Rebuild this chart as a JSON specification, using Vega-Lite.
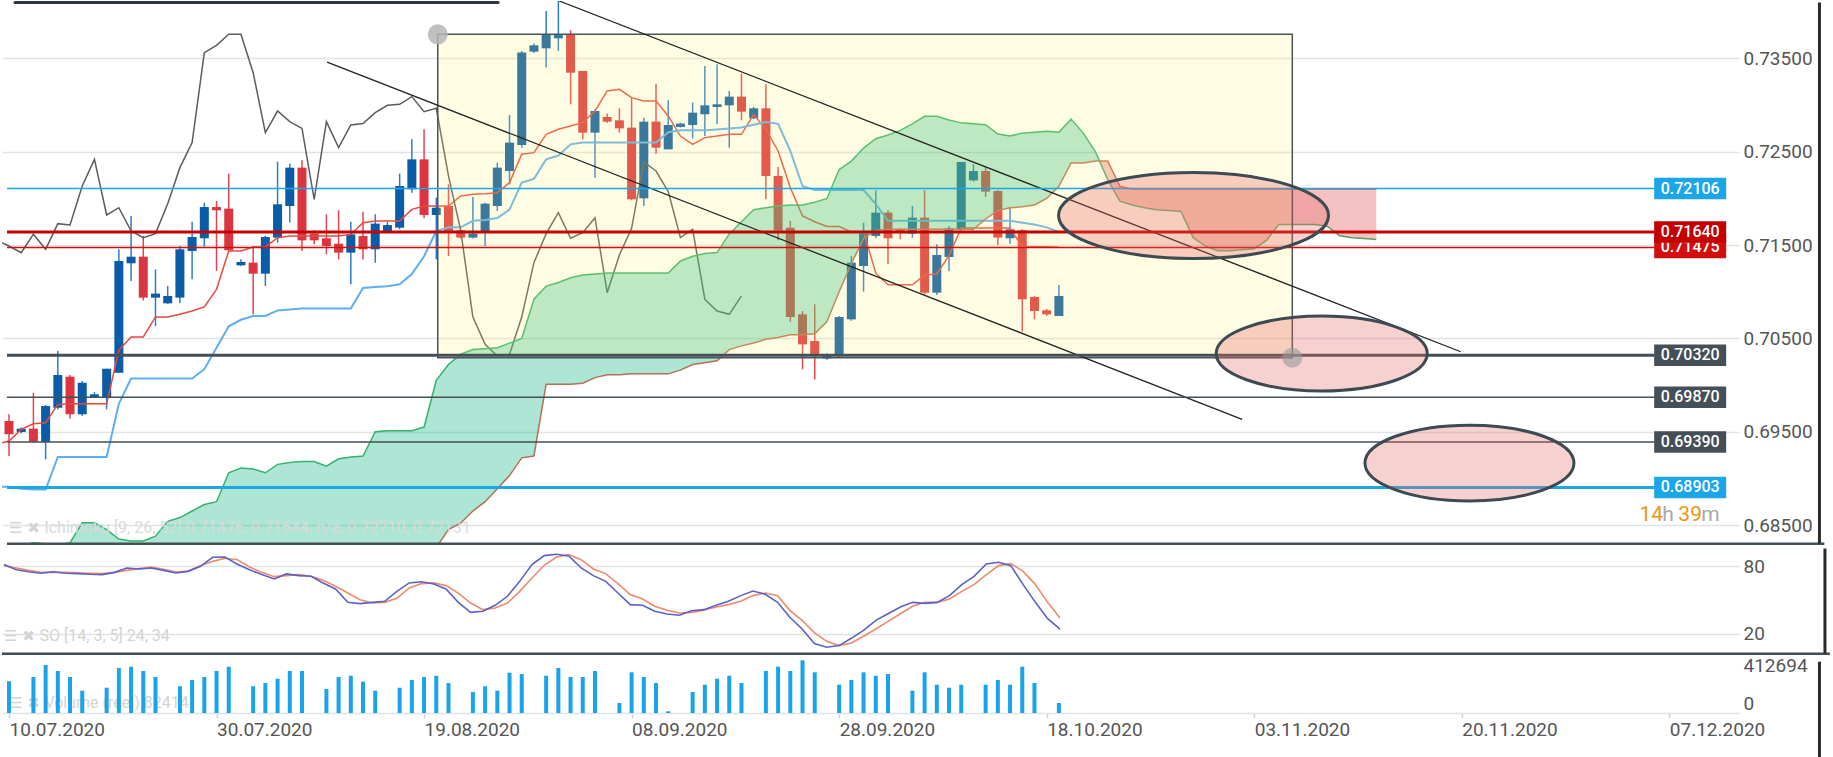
{
  "$schema": "https://vega.github.io/schema/vega-lite/v6.json",
  "description": "AUD/USD style daily chart with Ichimoku cloud, stochastic and volume panels.",
  "background": "white",
  "padding": 0,
  "spacing": 0,
  "config": {
    "view": {"stroke": null},
    "text": {"font": "Roboto"},
    "axis": {"labelFont": "Roboto", "labelColor": "#555555", "labelFontSize": 19}
  },
  "datasets": {
    "one": [{}],
    "candles": [
      {"i":0,"o":0.69615,"h":0.69687,"l":0.6924,"c":0.69472},
      {"i":1,"o":0.69497,"h":0.69545,"l":0.6948,"c":0.69533},
      {"i":2,"o":0.69533,"h":0.69918,"l":0.69383,"c":0.69393},
      {"i":3,"o":0.69393,"h":0.69786,"l":0.69204,"c":0.69775},
      {"i":4,"o":0.69757,"h":0.70365,"l":0.6974,"c":0.70108},
      {"i":5,"o":0.7009,"h":0.70108,"l":0.69643,"c":0.69687},
      {"i":6,"o":0.69687,"h":0.70043,"l":0.6967,"c":0.70025},
      {"i":7,"o":0.69872,"h":0.69926,"l":0.69865,"c":0.69901},
      {"i":8,"o":0.69872,"h":0.70175,"l":0.6974,"c":0.70175},
      {"i":9,"o":0.70132,"h":0.71455,"l":0.70132,"c":0.7133},
      {"i":10,"o":0.71305,"h":0.71812,"l":0.71115,"c":0.71376},
      {"i":11,"o":0.71376,"h":0.71598,"l":0.70908,"c":0.70937},
      {"i":12,"o":0.70937,"h":0.7124,"l":0.70633,"c":0.7098},
      {"i":13,"o":0.70876,"h":0.71062,"l":0.7087,"c":0.70955},
      {"i":14,"o":0.70937,"h":0.7149,"l":0.70876,"c":0.71455},
      {"i":15,"o":0.71437,"h":0.71751,"l":0.71133,"c":0.71587},
      {"i":16,"o":0.71573,"h":0.71955,"l":0.71483,"c":0.71908},
      {"i":17,"o":0.71908,"h":0.71973,"l":0.71222,"c":0.71873},
      {"i":18,"o":0.71891,"h":0.72266,"l":0.7143,"c":0.71444},
      {"i":19,"o":0.71283,"h":0.71348,"l":0.71276,"c":0.71319},
      {"i":20,"o":0.71312,"h":0.7149,"l":0.70758,"c":0.71194},
      {"i":21,"o":0.71194,"h":0.71598,"l":0.71062,"c":0.71587},
      {"i":22,"o":0.7158,"h":0.72394,"l":0.71526,"c":0.71937},
      {"i":23,"o":0.71919,"h":0.72373,"l":0.71741,"c":0.7233},
      {"i":24,"o":0.7233,"h":0.72409,"l":0.71437,"c":0.71551},
      {"i":25,"o":0.71623,"h":0.71658,"l":0.71508,"c":0.71551},
      {"i":26,"o":0.71573,"h":0.7183,"l":0.71401,"c":0.7149},
      {"i":27,"o":0.71515,"h":0.71873,"l":0.71347,"c":0.71419},
      {"i":28,"o":0.71419,"h":0.71751,"l":0.7108,"c":0.71615},
      {"i":29,"o":0.71597,"h":0.71858,"l":0.71347,"c":0.71455},
      {"i":30,"o":0.71455,"h":0.7183,"l":0.71312,"c":0.7173},
      {"i":31,"o":0.71651,"h":0.71751,"l":0.7164,"c":0.71715},
      {"i":32,"o":0.71687,"h":0.72266,"l":0.71669,"c":0.72133},
      {"i":33,"o":0.72098,"h":0.72634,"l":0.72062,"c":0.72419},
      {"i":34,"o":0.72419,"h":0.72741,"l":0.71787,"c":0.71823},
      {"i":35,"o":0.71823,"h":0.72008,"l":0.71347,"c":0.71901},
      {"i":36,"o":0.71919,"h":0.72151,"l":0.71383,"c":0.71651},
      {"i":37,"o":0.71658,"h":0.7167,"l":0.7157,"c":0.7158},
      {"i":38,"o":0.7158,"h":0.72016,"l":0.7157,"c":0.71623},
      {"i":39,"o":0.71651,"h":0.71955,"l":0.7149,"c":0.71944},
      {"i":40,"o":0.71919,"h":0.72384,"l":0.71866,"c":0.7233},
      {"i":41,"o":0.72294,"h":0.72894,"l":0.72151,"c":0.72598},
      {"i":42,"o":0.72573,"h":0.7358,"l":0.72544,"c":0.73563},
      {"i":43,"o":0.73573,"h":0.7366,"l":0.7356,"c":0.73641},
      {"i":44,"o":0.73609,"h":0.74009,"l":0.73402,"c":0.73759},
      {"i":45,"o":0.73716,"h":0.74116,"l":0.7358,"c":0.73759},
      {"i":46,"o":0.73759,"h":0.73802,"l":0.73009,"c":0.73348},
      {"i":47,"o":0.73366,"h":0.73366,"l":0.72634,"c":0.72705},
      {"i":48,"o":0.72705,"h":0.72955,"l":0.72223,"c":0.72937},
      {"i":49,"o":0.72873,"h":0.7291,"l":0.7281,"c":0.72823},
      {"i":50,"o":0.72837,"h":0.72966,"l":0.72705,"c":0.72751},
      {"i":51,"o":0.72759,"h":0.7308,"l":0.7198,"c":0.71991},
      {"i":52,"o":0.72001,"h":0.72866,"l":0.71919,"c":0.72823},
      {"i":53,"o":0.72823,"h":0.7323,"l":0.7248,"c":0.72544},
      {"i":54,"o":0.72526,"h":0.73052,"l":0.72526,"c":0.72787},
      {"i":55,"o":0.72766,"h":0.72812,"l":0.7276,"c":0.72802},
      {"i":56,"o":0.72787,"h":0.73027,"l":0.72644,"c":0.72919},
      {"i":57,"o":0.72902,"h":0.7342,"l":0.72669,"c":0.72998},
      {"i":58,"o":0.7298,"h":0.73438,"l":0.72794,"c":0.73009},
      {"i":59,"o":0.72998,"h":0.73152,"l":0.72544,"c":0.73091},
      {"i":60,"o":0.73091,"h":0.73337,"l":0.72837,"c":0.7293},
      {"i":61,"o":0.72859,"h":0.7298,"l":0.7285,"c":0.72966},
      {"i":62,"o":0.72966,"h":0.73223,"l":0.71991,"c":0.72241},
      {"i":63,"o":0.72241,"h":0.72337,"l":0.71551,"c":0.71658},
      {"i":64,"o":0.71687,"h":0.71758,"l":0.70679,"c":0.70729},
      {"i":65,"o":0.70758,"h":0.70794,"l":0.70169,"c":0.70436},
      {"i":66,"o":0.70472,"h":0.70865,"l":0.70061,"c":0.70312},
      {"i":67,"o":0.70286,"h":0.7034,"l":0.7027,"c":0.70329},
      {"i":68,"o":0.70312,"h":0.7074,"l":0.7029,"c":0.70729},
      {"i":69,"o":0.70704,"h":0.71383,"l":0.7069,"c":0.71312},
      {"i":70,"o":0.71276,"h":0.7174,"l":0.71001,"c":0.71623},
      {"i":71,"o":0.71598,"h":0.72087,"l":0.71573,"c":0.71848},
      {"i":72,"o":0.71848,"h":0.71873,"l":0.71301,"c":0.71573},
      {"i":73,"o":0.71669,"h":0.7168,"l":0.71562,"c":0.71633},
      {"i":74,"o":0.71623,"h":0.71919,"l":0.7158,"c":0.71794},
      {"i":75,"o":0.71794,"h":0.72087,"l":0.70972,"c":0.7099},
      {"i":76,"o":0.7099,"h":0.71508,"l":0.70965,"c":0.71394},
      {"i":77,"o":0.71373,"h":0.71705,"l":0.71222,"c":0.7168},
      {"i":78,"o":0.71669,"h":0.72391,"l":0.7166,"c":0.72391},
      {"i":79,"o":0.72194,"h":0.72366,"l":0.7218,"c":0.72294},
      {"i":80,"o":0.72294,"h":0.72337,"l":0.72016,"c":0.72073},
      {"i":81,"o":0.7208,"h":0.7209,"l":0.71501,"c":0.7158},
      {"i":82,"o":0.71573,"h":0.71894,"l":0.71515,"c":0.71669},
      {"i":83,"o":0.71658,"h":0.7167,"l":0.70572,"c":0.70919},
      {"i":84,"o":0.70944,"h":0.70955,"l":0.70704,"c":0.70794},
      {"i":85,"o":0.70801,"h":0.70815,"l":0.7074,"c":0.70758},
      {"i":86,"o":0.7074,"h":0.71073,"l":0.7074,"c":0.70955}
    ],
    "ichi": [
      {"i":-1,"tk":0.6937,"kj":0.6891,"ck":0.71551,"sa":0.682,"sb":0.68},
      {"i":0,"tk":0.694,"kj":0.6891,"ck":0.7149,"sa":0.6822,"sb":0.68},
      {"i":1,"tk":0.69525,"kj":0.6889,"ck":0.71419,"sa":0.6828,"sb":0.68},
      {"i":2,"tk":0.69586,"kj":0.6888,"ck":0.71615,"sa":0.6831,"sb":0.68},
      {"i":3,"tk":0.69597,"kj":0.6888,"ck":0.71455,"sa":0.683,"sb":0.68},
      {"i":4,"tk":0.69793,"kj":0.6923,"ck":0.7173,"sa":0.6829,"sb":0.68},
      {"i":5,"tk":0.698,"kj":0.6923,"ck":0.71715,"sa":0.6831,"sb":0.68},
      {"i":6,"tk":0.698,"kj":0.6923,"ck":0.72133,"sa":0.68525,"sb":0.68},
      {"i":7,"tk":0.698,"kj":0.6923,"ck":0.72419,"sa":0.68525,"sb":0.68},
      {"i":8,"tk":0.698,"kj":0.6923,"ck":0.71823,"sa":0.6845,"sb":0.68},
      {"i":9,"tk":0.70372,"kj":0.698,"ck":0.71901,"sa":0.6835,"sb":0.68},
      {"i":10,"tk":0.70515,"kj":0.7007,"ck":0.71651,"sa":0.6833,"sb":0.68},
      {"i":11,"tk":0.70515,"kj":0.7007,"ck":0.7158,"sa":0.6833,"sb":0.68},
      {"i":12,"tk":0.7073,"kj":0.7007,"ck":0.71623,"sa":0.6838,"sb":0.68},
      {"i":13,"tk":0.7073,"kj":0.7007,"ck":0.71944,"sa":0.6854,"sb":0.68},
      {"i":14,"tk":0.70758,"kj":0.7007,"ck":0.7233,"sa":0.6858,"sb":0.68},
      {"i":15,"tk":0.70794,"kj":0.7007,"ck":0.72598,"sa":0.6865,"sb":0.68},
      {"i":16,"tk":0.70837,"kj":0.7017,"ck":0.73563,"sa":0.6872,"sb":0.68},
      {"i":17,"tk":0.71026,"kj":0.704,"ck":0.73641,"sa":0.6875,"sb":0.68},
      {"i":18,"tk":0.71437,"kj":0.7063,"ck":0.73759,"sa":0.6906,"sb":0.68},
      {"i":19,"tk":0.71437,"kj":0.707,"ck":0.73759,"sa":0.6911,"sb":0.68},
      {"i":20,"tk":0.7148,"kj":0.7074,"ck":0.73348,"sa":0.691,"sb":0.68},
      {"i":21,"tk":0.7148,"kj":0.7074,"ck":0.72705,"sa":0.6906,"sb":0.68},
      {"i":22,"tk":0.7158,"kj":0.708,"ck":0.72937,"sa":0.6915,"sb":0.68},
      {"i":23,"tk":0.71598,"kj":0.7081,"ck":0.72823,"sa":0.6917,"sb":0.68},
      {"i":24,"tk":0.71598,"kj":0.7082,"ck":0.72751,"sa":0.6918,"sb":0.68},
      {"i":25,"tk":0.71598,"kj":0.7082,"ck":0.71991,"sa":0.6918,"sb":0.68},
      {"i":26,"tk":0.71598,"kj":0.7082,"ck":0.72823,"sa":0.6913,"sb":0.68},
      {"i":27,"tk":0.71598,"kj":0.7082,"ck":0.72544,"sa":0.6921,"sb":0.68},
      {"i":28,"tk":0.71615,"kj":0.7082,"ck":0.72787,"sa":0.6923,"sb":0.68},
      {"i":29,"tk":0.7174,"kj":0.7104,"ck":0.72802,"sa":0.6924,"sb":0.68},
      {"i":30,"tk":0.71758,"kj":0.7105,"ck":0.72919,"sa":0.695,"sb":0.68},
      {"i":31,"tk":0.71758,"kj":0.7106,"ck":0.72998,"sa":0.6951,"sb":0.68},
      {"i":32,"tk":0.71758,"kj":0.7108,"ck":0.73009,"sa":0.6951,"sb":0.68},
      {"i":33,"tk":0.71883,"kj":0.7119,"ck":0.73091,"sa":0.6951,"sb":0.68},
      {"i":34,"tk":0.71919,"kj":0.7138,"ck":0.7293,"sa":0.6955,"sb":0.68},
      {"i":35,"tk":0.71919,"kj":0.7165,"ck":0.72966,"sa":0.7005,"sb":0.6826},
      {"i":36,"tk":0.71919,"kj":0.7169,"ck":0.72241,"sa":0.7022,"sb":0.6845},
      {"i":37,"tk":0.72026,"kj":0.7169,"ck":0.71658,"sa":0.7033,"sb":0.6852},
      {"i":38,"tk":0.72044,"kj":0.7176,"ck":0.70729,"sa":0.7038,"sb":0.6865},
      {"i":39,"tk":0.72051,"kj":0.7177,"ck":0.70436,"sa":0.7039,"sb":0.6875},
      {"i":40,"tk":0.72062,"kj":0.7179,"ck":0.70312,"sa":0.704,"sb":0.6889},
      {"i":41,"tk":0.72169,"kj":0.7188,"ck":0.70329,"sa":0.7045,"sb":0.6903},
      {"i":42,"tk":0.72473,"kj":0.7217,"ck":0.70729,"sa":0.705,"sb":0.6922},
      {"i":43,"tk":0.72491,"kj":0.7221,"ck":0.71312,"sa":0.7092,"sb":0.6924},
      {"i":44,"tk":0.72687,"kj":0.7242,"ck":0.71623,"sa":0.7106,"sb":0.7001},
      {"i":45,"tk":0.72741,"kj":0.7246,"ck":0.71848,"sa":0.711,"sb":0.7001},
      {"i":46,"tk":0.72777,"kj":0.7258,"ck":0.71573,"sa":0.7115,"sb":0.7001},
      {"i":47,"tk":0.72812,"kj":0.726,"ck":0.71633,"sa":0.7118,"sb":0.7002},
      {"i":48,"tk":0.72937,"kj":0.726,"ck":0.71794,"sa":0.7119,"sb":0.7008},
      {"i":49,"tk":0.73152,"kj":0.726,"ck":0.7099,"sa":0.712,"sb":0.7011},
      {"i":50,"tk":0.7317,"kj":0.726,"ck":0.71394,"sa":0.712,"sb":0.7011},
      {"i":51,"tk":0.7308,"kj":0.726,"ck":0.7168,"sa":0.712,"sb":0.7012},
      {"i":52,"tk":0.73045,"kj":0.726,"ck":0.72391,"sa":0.712,"sb":0.7012},
      {"i":53,"tk":0.73045,"kj":0.726,"ck":0.72294,"sa":0.712,"sb":0.7012},
      {"i":54,"tk":0.72884,"kj":0.7271,"ck":0.72073,"sa":0.712,"sb":0.7012},
      {"i":55,"tk":0.72669,"kj":0.7273,"ck":0.7158,"sa":0.7133,"sb":0.7016},
      {"i":56,"tk":0.7258,"kj":0.7273,"ck":0.71669,"sa":0.7138,"sb":0.7022},
      {"i":57,"tk":0.72652,"kj":0.7273,"ck":0.70919,"sa":0.7141,"sb":0.7024},
      {"i":58,"tk":0.72669,"kj":0.7274,"ck":0.70794,"sa":0.7142,"sb":0.7026},
      {"i":59,"tk":0.72687,"kj":0.7275,"ck":0.70758,"sa":0.7162,"sb":0.7038},
      {"i":60,"tk":0.72687,"kj":0.7276,"ck":0.70955,"sa":0.7175,"sb":0.7042},
      {"i":61,"tk":0.729,"kj":0.7279,"sa":0.7188,"sb":0.7045},
      {"i":62,"tk":0.7274,"kj":0.7282,"sa":0.719,"sb":0.7049},
      {"i":63,"tk":0.72509,"kj":0.728,"sa":0.7192,"sb":0.7051},
      {"i":64,"tk":0.72116,"kj":0.7251,"sa":0.7193,"sb":0.7054},
      {"i":65,"tk":0.71812,"kj":0.7213,"sa":0.7193,"sb":0.7054},
      {"i":66,"tk":0.7175,"kj":0.7209,"sa":0.7196,"sb":0.7055},
      {"i":67,"tk":0.71699,"kj":0.7209,"sa":0.72,"sb":0.7068},
      {"i":68,"tk":0.71699,"kj":0.7209,"sa":0.7231,"sb":0.71},
      {"i":69,"tk":0.71642,"kj":0.7209,"sa":0.724,"sb":0.713},
      {"i":70,"tk":0.71642,"kj":0.7209,"sa":0.7254,"sb":0.7157},
      {"i":71,"tk":0.71199,"kj":0.7194,"sa":0.7264,"sb":0.7166},
      {"i":72,"tk":0.71074,"kj":0.7176,"sa":0.7268,"sb":0.7167},
      {"i":73,"tk":0.71074,"kj":0.7176,"sa":0.7273,"sb":0.7167},
      {"i":74,"tk":0.71074,"kj":0.7176,"sa":0.728,"sb":0.7167},
      {"i":75,"tk":0.71179,"kj":0.7176,"sa":0.7288,"sb":0.7167},
      {"i":76,"tk":0.71189,"kj":0.7176,"sa":0.7288,"sb":0.7167},
      {"i":77,"tk":0.71389,"kj":0.7176,"sa":0.7284,"sb":0.7167},
      {"i":78,"tk":0.71682,"kj":0.7176,"sa":0.7281,"sb":0.7167},
      {"i":79,"tk":0.71682,"kj":0.7176,"sa":0.728,"sb":0.7167},
      {"i":80,"tk":0.71682,"kj":0.7176,"sa":0.7279,"sb":0.7178},
      {"i":81,"tk":0.71682,"kj":0.7176,"sa":0.7269,"sb":0.7187},
      {"i":82,"tk":0.71682,"kj":0.7176,"sa":0.7267,"sb":0.719},
      {"i":83,"tk":0.71482,"kj":0.7174,"sa":0.727,"sb":0.7191},
      {"i":84,"tk":0.71482,"kj":0.7172,"sa":0.7271,"sb":0.7193},
      {"i":85,"tk":0.71482,"kj":0.7169,"sa":0.7272,"sb":0.72},
      {"i":86,"tk":0.71476,"kj":0.7164,"sa":0.7271,"sb":0.7213},
      {"i":87,"sa":0.7285,"sb":0.7238},
      {"i":88,"sa":0.727,"sb":0.7238},
      {"i":89,"sa":0.725,"sb":0.724},
      {"i":89.33,"sa":0.724,"sb":0.724},
      {"i":90,"sa":0.722,"sb":0.724},
      {"i":91,"sa":0.7197,"sb":0.7213},
      {"i":92,"sa":0.7193,"sb":0.721},
      {"i":93,"sa":0.719,"sb":0.721},
      {"i":94,"sa":0.7188,"sb":0.721},
      {"i":95,"sa":0.7187,"sb":0.721},
      {"i":96,"sa":0.7186,"sb":0.721},
      {"i":97,"sa":0.7158,"sb":0.721},
      {"i":98,"sa":0.7149,"sb":0.721},
      {"i":99,"sa":0.7144,"sb":0.721},
      {"i":100,"sa":0.7144,"sb":0.721},
      {"i":101,"sa":0.7145,"sb":0.721},
      {"i":102,"sa":0.7146,"sb":0.721},
      {"i":103,"sa":0.7155,"sb":0.721},
      {"i":104,"sa":0.7172,"sb":0.721},
      {"i":105,"sa":0.7172,"sb":0.721},
      {"i":106,"sa":0.7172,"sb":0.721},
      {"i":107,"sa":0.7172,"sb":0.721},
      {"i":108,"sa":0.717,"sb":0.721},
      {"i":109,"sa":0.716,"sb":0.721},
      {"i":110,"sa":0.7158,"sb":0.721},
      {"i":111,"sa":0.7157,"sb":0.721},
      {"i":112,"sa":0.7156,"sb":0.721}
    ],
    "stoch": [
      {"i":0,"k":81.5,"d":80.6},{"i":1,"k":77.0,"d":78.5},{"i":2,"k":75.2,"d":76.4},{"i":3,"k":73.8,"d":74.6},
      {"i":4,"k":75.2,"d":74.6},{"i":5,"k":73.8,"d":74.6},{"i":6,"k":73.5,"d":74.1},{"i":7,"k":72.9,"d":73.8},
      {"i":8,"k":72.6,"d":73.5},{"i":9,"k":74.6,"d":74.6},{"i":10,"k":78.5,"d":76.4},{"i":11,"k":77.6,"d":77.9},
      {"i":12,"k":78.5,"d":79.4},{"i":13,"k":76.4,"d":77.3},{"i":14,"k":74.1,"d":74.9},{"i":15,"k":75.5,"d":75.8},
      {"i":16,"k":80.0,"d":80.6},{"i":17,"k":88.0,"d":84.4},{"i":18,"k":88.3,"d":87.1},{"i":19,"k":81.8,"d":85.9},
      {"i":20,"k":77.0,"d":79.4},{"i":21,"k":72.6,"d":74.6},{"i":22,"k":68.7,"d":70.8},{"i":23,"k":73.2,"d":71.7},
      {"i":24,"k":71.7,"d":72.6},{"i":25,"k":71.1,"d":71.1},{"i":26,"k":65.2,"d":67.5},{"i":27,"k":59.8,"d":62.2},
      {"i":28,"k":47.9,"d":56.2},{"i":29,"k":46.8,"d":50.3},{"i":30,"k":47.9,"d":47.3},{"i":31,"k":48.8,"d":47.9},
      {"i":32,"k":57.7,"d":51.5},{"i":33,"k":65.2,"d":60.7},{"i":34,"k":66.3,"d":64.6},{"i":35,"k":64.3,"d":65.2},
      {"i":36,"k":59.8,"d":62.8},{"i":37,"k":47.9,"d":56.2},{"i":38,"k":39.0,"d":47.3},{"i":39,"k":39.9,"d":41.4},
      {"i":40,"k":45.3,"d":42.9},{"i":41,"k":53.3,"d":47.3},{"i":42,"k":66.6,"d":57.7},{"i":43,"k":81.5,"d":69.6},
      {"i":44,"k":89.5,"d":80.9},{"i":45,"k":90.7,"d":88.3},{"i":46,"k":89.2,"d":90.4},{"i":47,"k":78.5,"d":85.9},
      {"i":48,"k":71.7,"d":77.6},{"i":49,"k":66.6,"d":73.5},{"i":50,"k":56.2,"d":64.6},{"i":51,"k":45.9,"d":54.8},
      {"i":52,"k":45.3,"d":50.9},{"i":53,"k":39.9,"d":44.4},{"i":54,"k":37.6,"d":40.8},{"i":55,"k":36.4,"d":38.4},
      {"i":56,"k":40.5,"d":39.0},{"i":57,"k":41.4,"d":40.8},{"i":58,"k":45.3,"d":43.8},{"i":59,"k":48.8,"d":45.9},
      {"i":60,"k":53.9,"d":48.8},{"i":61,"k":58.0,"d":53.9},{"i":62,"k":55.1,"d":56.2},{"i":63,"k":47.9,"d":53.9},
      {"i":64,"k":34.6,"d":40.8},{"i":65,"k":24.2,"d":31.9},{"i":66,"k":11.2,"d":20.9},{"i":67,"k":7.9,"d":13.2},
      {"i":68,"k":9.4,"d":9.4},{"i":69,"k":15.9,"d":11.7},{"i":70,"k":23.0,"d":17.7},{"i":71,"k":31.9,"d":24.2},
      {"i":72,"k":37.8,"d":31.0},{"i":73,"k":43.8,"d":37.8},{"i":74,"k":47.9,"d":44.4},{"i":75,"k":47.0,"d":47.9},
      {"i":76,"k":47.9,"d":47.9},{"i":77,"k":53.9,"d":50.9},{"i":78,"k":63.7,"d":57.7},{"i":79,"k":71.1,"d":63.7},
      {"i":80,"k":82.1,"d":72.6},{"i":81,"k":83.6,"d":80.6},{"i":82,"k":80.6,"d":82.4},{"i":83,"k":63.7,"d":75.5},
      {"i":84,"k":47.9,"d":63.7},{"i":85,"k":33.4,"d":47.9},{"i":86,"k":24.0,"d":34.0}
    ],
    "volume": [
      {"i":0,"v":352000},{"i":2,"v":400000},{"i":3,"v":533000},{"i":4,"v":467000},{"i":5,"v":400000},{"i":6,"v":248000},
      {"i":8,"v":281000},{"i":9,"v":500000},{"i":10,"v":514000},{"i":11,"v":467000},{"i":12,"v":400000},
      {"i":14,"v":297000},{"i":15,"v":367000},{"i":16,"v":400000},{"i":17,"v":467000},{"i":18,"v":514000},
      {"i":20,"v":297000},{"i":21,"v":333000},{"i":22,"v":381000},{"i":23,"v":467000},{"i":24,"v":467000},
      {"i":26,"v":267000},{"i":27,"v":400000},{"i":28,"v":414000},{"i":29,"v":348000},{"i":30,"v":248000},
      {"i":32,"v":281000},{"i":33,"v":367000},{"i":34,"v":400000},{"i":35,"v":414000},{"i":36,"v":333000},
      {"i":38,"v":233000},{"i":39,"v":297000},{"i":40,"v":248000},{"i":41,"v":448000},{"i":42,"v":433000},
      {"i":44,"v":414000},{"i":45,"v":500000},{"i":46,"v":400000},{"i":47,"v":400000},{"i":48,"v":467000},
      {"i":50,"v":111000},{"i":51,"v":452000},{"i":52,"v":400000},{"i":53,"v":333000},{"i":54,"v":19000},
      {"i":56,"v":233000},{"i":57,"v":314000},{"i":58,"v":381000},{"i":59,"v":414000},{"i":60,"v":333000},
      {"i":62,"v":467000},{"i":63,"v":514000},{"i":64,"v":467000},{"i":65,"v":585000},{"i":66,"v":452000},
      {"i":68,"v":314000},{"i":69,"v":367000},{"i":70,"v":452000},{"i":71,"v":414000},{"i":72,"v":433000},
      {"i":74,"v":248000},{"i":75,"v":452000},{"i":76,"v":314000},{"i":77,"v":281000},{"i":78,"v":314000},
      {"i":80,"v":314000},{"i":81,"v":367000},{"i":82,"v":314000},{"i":83,"v":514000},{"i":84,"v":333000},
      {"i":86,"v":111000}
    ],
    "levels": [
      {"p":0.72106},{"p":0.7164},{"p":0.71475},{"p":0.7032},{"p":0.6987},{"p":0.6939},{"p":0.68903}
    ],
    "trend": [
      {"i1":26.06,"p1":0.73462,"i2":101.01,"p2":0.69633},
      {"i1":45.07,"p1":0.74116,"i2":118.92,"p2":0.70357}
    ],
    "box": [{"i1":35.12,"p1":0.73759,"i2":105.12,"p2":0.70293}],
    "ellipses": [
      {"n":1,"i":97.03,"p":0.71817},
      {"n":2,"i":107.53,"p":0.70338},
      {"n":3,"i":119.63,"p":0.69164}
    ],
    "timer": [
      {"t":"14","i":133.56},{"t":"h","i":135.43},{"t":"39","i":136.74},{"t":"m","i":138.61}
    ]
  },
  "vconcat": [
    {
      "width": 1737,
      "height": 544,
      "resolve": {"axis": {"x": "independent", "y": "independent"}},
      "layer": [
        {
          "data": {"name": "candles"},
          "mark": {"type": "rule", "strokeWidth": 1.5, "clip": true},
          "encoding": {
            "x": {"field": "i", "type": "quantitative", "scale": {"domain": [-0.163, 141.3], "nice": false, "zero": false}, "axis": null},
            "y": {"field": "l", "type": "quantitative", "scale": {"domain": [0.68286, 0.74116], "nice": false, "zero": false},
                  "axis": {"orient": "right", "values": [0.685, 0.695, 0.705, 0.715, 0.725, 0.735], "format": ".5f", "title": null,
                           "grid": true, "gridColor": "#dfe3e6", "gridWidth": 1.5, "ticks": false, "domain": false,
                           "labelPadding": 4, "labelFlush": false, "labelOverlap": false}},
            "y2": {"field": "h"},
            "color": {"condition": {"test": "datum.c >= datum.o", "value": "#2a7dcc"}, "value": "#e5434d"}
          }
        },
        {
          "data": {"name": "candles"},
          "mark": {"type": "bar", "width": 9, "clip": true},
          "encoding": {
            "x": {"field": "i", "type": "quantitative", "scale": {"domain": [-0.163, 141.3], "nice": false, "zero": false}, "axis": null},
            "y": {"field": "o", "type": "quantitative", "scale": {"domain": [0.68286, 0.74116], "nice": false, "zero": false}, "axis": null},
            "y2": {"field": "c"},
            "color": {"condition": {"test": "datum.c >= datum.o", "value": "#0b5ca6"}, "value": "#da3541"}
          }
        },
        {
          "data": {"name": "ichi"},
          "mark": {"type": "line", "color": "#e8493f", "strokeWidth": 1.5, "clip": true},
          "encoding": {
            "x": {"field": "i", "type": "quantitative", "scale": {"domain": [-0.163, 141.3], "nice": false, "zero": false}, "axis": null},
            "y": {"field": "tk", "type": "quantitative", "scale": {"domain": [0.68286, 0.74116], "nice": false, "zero": false}, "axis": null}
          }
        },
        {
          "data": {"name": "ichi"},
          "mark": {"type": "line", "color": "#5eaef2", "strokeWidth": 2, "clip": true},
          "encoding": {
            "x": {"field": "i", "type": "quantitative", "scale": {"domain": [-0.163, 141.3], "nice": false, "zero": false}, "axis": null},
            "y": {"field": "kj", "type": "quantitative", "scale": {"domain": [0.68286, 0.74116], "nice": false, "zero": false}, "axis": null}
          }
        },
        {
          "data": {"name": "ichi"},
          "mark": {"type": "line", "color": "#5c5c5c", "strokeWidth": 1.5, "clip": true},
          "encoding": {
            "x": {"field": "i", "type": "quantitative", "scale": {"domain": [-0.163, 141.3], "nice": false, "zero": false}, "axis": null},
            "y": {"field": "ck", "type": "quantitative", "scale": {"domain": [0.68286, 0.74116], "nice": false, "zero": false}, "axis": null}
          }
        },
        {
          "data": {"name": "ichi"},
          "mark": {"type": "line", "color": "#d8644f", "strokeWidth": 1.5, "clip": true},
          "encoding": {
            "x": {"field": "i", "type": "quantitative", "scale": {"domain": [-0.163, 141.3], "nice": false, "zero": false}, "axis": null},
            "y": {"field": "sb", "type": "quantitative", "scale": {"domain": [0.68286, 0.74116], "nice": false, "zero": false}, "axis": null}
          }
        },
        {
          "data": {"name": "ichi"},
          "mark": {"type": "line", "color": "#3db46c", "strokeWidth": 1.5, "clip": true},
          "encoding": {
            "x": {"field": "i", "type": "quantitative", "scale": {"domain": [-0.163, 141.3], "nice": false, "zero": false}, "axis": null},
            "y": {"field": "sa", "type": "quantitative", "scale": {"domain": [0.68286, 0.74116], "nice": false, "zero": false}, "axis": null}
          }
        },
        {
          "data": {"name": "ichi"},
          "transform": [{"filter": "datum.i <= 89.33"}],
          "mark": {"type": "area", "color": "#00b179", "opacity": 0.32, "clip": true},
          "encoding": {
            "x": {"field": "i", "type": "quantitative", "scale": {"domain": [-0.163, 141.3], "nice": false, "zero": false}, "axis": null},
            "y": {"field": "sa", "type": "quantitative", "scale": {"domain": [0.68286, 0.74116], "nice": false, "zero": false}, "axis": null},
            "y2": {"field": "sb"}
          }
        },
        {
          "data": {"name": "ichi"},
          "transform": [{"filter": "datum.i >= 89.33"}],
          "mark": {"type": "area", "color": "#dd4040", "opacity": 0.32, "clip": true},
          "encoding": {
            "x": {"field": "i", "type": "quantitative", "scale": {"domain": [-0.163, 141.3], "nice": false, "zero": false}, "axis": null},
            "y": {"field": "sa", "type": "quantitative", "scale": {"domain": [0.68286, 0.74116], "nice": false, "zero": false}, "axis": null},
            "y2": {"field": "sb"}
          }
        },
        {
          "data": {"name": "box"},
          "mark": {"type": "rect", "fill": "#fff078", "fillOpacity": 0.2, "stroke": "#49545b", "strokeWidth": 1.5},
          "encoding": {
            "x": {"field": "i1", "type": "quantitative", "scale": {"domain": [-0.163, 141.3], "nice": false, "zero": false}, "axis": null},
            "x2": {"field": "i2"},
            "y": {"field": "p1", "type": "quantitative", "scale": {"domain": [0.68286, 0.74116], "nice": false, "zero": false}, "axis": null},
            "y2": {"field": "p2"}
          }
        },
        {
          "data": {"name": "trend"},
          "mark": {"type": "rule", "color": "#222222", "strokeWidth": 1.3, "clip": true},
          "encoding": {
            "x": {"field": "i1", "type": "quantitative", "scale": {"domain": [-0.163, 141.3], "nice": false, "zero": false}, "axis": null},
            "x2": {"field": "i2"},
            "y": {"field": "p1", "type": "quantitative", "scale": {"domain": [0.68286, 0.74116], "nice": false, "zero": false}, "axis": null},
            "y2": {"field": "p2"}
          }
        },
        {
          "data": {"name": "levels"},
          "transform": [{"filter": "datum.p != 0.7164 && datum.p != 0.7032 && datum.p != 0.68903"}],
          "mark": {"type": "rule", "strokeWidth": 1.6},
          "encoding": {
            "x": {"datum": -0.163, "type": "quantitative", "scale": {"domain": [-0.163, 141.3], "nice": false, "zero": false}, "axis": null},
            "x2": {"datum": 134.8},
            "y": {"field": "p", "type": "quantitative", "scale": {"domain": [0.68286, 0.74116], "nice": false, "zero": false}, "axis": null},
            "color": {"field": "p", "type": "nominal", "legend": null,
                      "scale": {"domain": [0.72106, 0.7164, 0.71475, 0.7032, 0.6987, 0.6939, 0.68903],
                                "range": ["#1ba6e8", "#c40000", "#d10f0f", "#444f57", "#444f57", "#444f57", "#1ba6e8"]}}
          }
        },
        {
          "data": {"name": "levels"},
          "transform": [{"filter": "datum.p == 0.7164 || datum.p == 0.7032 || datum.p == 0.68903"}],
          "mark": {"type": "rule", "strokeWidth": 3},
          "encoding": {
            "x": {"datum": -0.163, "type": "quantitative", "scale": {"domain": [-0.163, 141.3], "nice": false, "zero": false}, "axis": null},
            "x2": {"datum": 134.8},
            "y": {"field": "p", "type": "quantitative", "scale": {"domain": [0.68286, 0.74116], "nice": false, "zero": false}, "axis": null},
            "color": {"field": "p", "type": "nominal", "legend": null}
          }
        },
        {
          "data": {"name": "ellipses"},
          "transform": [{"filter": "datum.n == 1"}],
          "mark": {"type": "point", "shape": "M-1,0A1,0.3185,0,1,1,1,0A1,0.3185,0,1,1,-1,0Z", "size": 72900, "filled": false,
                   "fill": "#e66464", "fillOpacity": 0.3, "stroke": "#3d4a52", "strokeWidth": 3, "strokeOpacity": 1, "opacity": 1},
          "encoding": {
            "x": {"field": "i", "type": "quantitative", "scale": {"domain": [-0.163, 141.3], "nice": false, "zero": false}, "axis": null},
            "y": {"field": "p", "type": "quantitative", "scale": {"domain": [0.68286, 0.74116], "nice": false, "zero": false}, "axis": null}
          }
        },
        {
          "data": {"name": "ellipses"},
          "transform": [{"filter": "datum.n == 2"}],
          "mark": {"type": "point", "shape": "M-1,0A1,0.355,0,1,1,1,0A1,0.355,0,1,1,-1,0Z", "size": 44521, "filled": false,
                   "fill": "#e66464", "fillOpacity": 0.3, "stroke": "#3d4a52", "strokeWidth": 3, "strokeOpacity": 1, "opacity": 1},
          "encoding": {
            "x": {"field": "i", "type": "quantitative", "scale": {"domain": [-0.163, 141.3], "nice": false, "zero": false}, "axis": null},
            "y": {"field": "p", "type": "quantitative", "scale": {"domain": [0.68286, 0.74116], "nice": false, "zero": false}, "axis": null}
          }
        },
        {
          "data": {"name": "ellipses"},
          "transform": [{"filter": "datum.n == 3"}],
          "mark": {"type": "point", "shape": "M-1,0A1,0.363,0,1,1,1,0A1,0.363,0,1,1,-1,0Z", "size": 43681, "filled": false,
                   "fill": "#e66464", "fillOpacity": 0.3, "stroke": "#3d4a52", "strokeWidth": 3, "strokeOpacity": 1, "opacity": 1},
          "encoding": {
            "x": {"field": "i", "type": "quantitative", "scale": {"domain": [-0.163, 141.3], "nice": false, "zero": false}, "axis": null},
            "y": {"field": "p", "type": "quantitative", "scale": {"domain": [0.68286, 0.74116], "nice": false, "zero": false}, "axis": null}
          }
        },
        {
          "data": {"name": "box"},
          "mark": {"type": "point", "shape": "circle", "size": 400, "filled": true, "color": "#b5b5b5", "opacity": 0.85},
          "encoding": {
            "x": {"field": "i1", "type": "quantitative", "scale": {"domain": [-0.163, 141.3], "nice": false, "zero": false}, "axis": null},
            "y": {"field": "p1", "type": "quantitative", "scale": {"domain": [0.68286, 0.74116], "nice": false, "zero": false}, "axis": null}
          }
        },
        {
          "data": {"name": "box"},
          "mark": {"type": "point", "shape": "circle", "size": 400, "filled": true, "color": "#9a9a9a", "opacity": 0.6},
          "encoding": {
            "x": {"field": "i2", "type": "quantitative", "scale": {"domain": [-0.163, 141.3], "nice": false, "zero": false}, "axis": null},
            "y": {"field": "p2", "type": "quantitative", "scale": {"domain": [0.68286, 0.74116], "nice": false, "zero": false}, "axis": null}
          }
        },
        {
          "data": {"name": "levels"},
          "transform": [{"filter": "datum.p != 0.7164"}],
          "mark": {"type": "point", "shape": "M-1,-0.3L1,-0.3L1,0.3L-1,0.3Z", "size": 5184, "filled": true, "opacity": 1},
          "encoding": {
            "x": {"datum": 137.71, "type": "quantitative", "scale": {"domain": [-0.163, 141.3], "nice": false, "zero": false}, "axis": null},
            "y": {"field": "p", "type": "quantitative", "scale": {"domain": [0.68286, 0.74116], "nice": false, "zero": false}, "axis": null},
            "color": {"field": "p", "type": "nominal", "legend": null}
          }
        },
        {
          "data": {"name": "levels"},
          "transform": [{"filter": "datum.p != 0.7164"}],
          "mark": {"type": "text", "color": "#ffffff", "fontSize": 16, "fontWeight": 500, "align": "center", "baseline": "middle"},
          "encoding": {
            "x": {"datum": 137.71, "type": "quantitative", "scale": {"domain": [-0.163, 141.3], "nice": false, "zero": false}, "axis": null},
            "y": {"field": "p", "type": "quantitative", "scale": {"domain": [0.68286, 0.74116], "nice": false, "zero": false}, "axis": null},
            "text": {"field": "p", "type": "quantitative", "format": ".5f"}
          }
        },
        {
          "data": {"name": "levels"},
          "transform": [{"filter": "datum.p == 0.7164"}],
          "mark": {"type": "point", "shape": "M-1,-0.3L1,-0.3L1,0.3L-1,0.3Z", "size": 5184, "filled": true, "opacity": 1},
          "encoding": {
            "x": {"datum": 137.71, "type": "quantitative", "scale": {"domain": [-0.163, 141.3], "nice": false, "zero": false}, "axis": null},
            "y": {"field": "p", "type": "quantitative", "scale": {"domain": [0.68286, 0.74116], "nice": false, "zero": false}, "axis": null},
            "color": {"field": "p", "type": "nominal", "legend": null}
          }
        },
        {
          "data": {"name": "levels"},
          "transform": [{"filter": "datum.p == 0.7164"}],
          "mark": {"type": "text", "color": "#ffffff", "fontSize": 16, "fontWeight": 500, "align": "center", "baseline": "middle"},
          "encoding": {
            "x": {"datum": 137.71, "type": "quantitative", "scale": {"domain": [-0.163, 141.3], "nice": false, "zero": false}, "axis": null},
            "y": {"field": "p", "type": "quantitative", "scale": {"domain": [0.68286, 0.74116], "nice": false, "zero": false}, "axis": null},
            "text": {"field": "p", "type": "quantitative", "format": ".5f"}
          }
        },
        {
          "data": {"name": "timer"},
          "transform": [{"filter": "datum.t == '14' || datum.t == '39'"}],
          "mark": {"type": "text", "color": "#f0940c", "fontSize": 21, "align": "left", "baseline": "middle"},
          "encoding": {
            "x": {"field": "i", "type": "quantitative", "scale": {"domain": [-0.163, 141.3], "nice": false, "zero": false}, "axis": null},
            "y": {"datum": 0.68608, "type": "quantitative", "scale": {"domain": [0.68286, 0.74116], "nice": false, "zero": false}, "axis": null},
            "text": {"field": "t"}
          }
        },
        {
          "data": {"name": "timer"},
          "transform": [{"filter": "datum.t == 'h' || datum.t == 'm'"}],
          "mark": {"type": "text", "color": "#a8a8a8", "fontSize": 21, "align": "left", "baseline": "middle"},
          "encoding": {
            "x": {"field": "i", "type": "quantitative", "scale": {"domain": [-0.163, 141.3], "nice": false, "zero": false}, "axis": null},
            "y": {"datum": 0.68608, "type": "quantitative", "scale": {"domain": [0.68286, 0.74116], "nice": false, "zero": false}, "axis": null},
            "text": {"field": "t"}
          }
        },
        {
          "data": {"name": "one"},
          "mark": {"type": "text", "color": "#dadada", "fontSize": 16, "align": "left", "baseline": "middle"},
          "encoding": {
            "x": {"datum": 2.9, "type": "quantitative", "scale": {"domain": [-0.163, 141.3], "nice": false, "zero": false}, "axis": null},
            "y": {"datum": 0.68471, "type": "quantitative", "scale": {"domain": [0.68286, 0.74116], "nice": false, "zero": false}, "axis": null},
            "text": {"value": "Ichimoku [9, 26, 52] 0.71476, 0.71644, n/a, 0.72710, 0.72131"}
          }
        },
        {
          "data": {"name": "one"},
          "mark": {"type": "text", "color": "#d4d4d4", "fontSize": 15, "font": "DejaVu Sans", "align": "left", "baseline": "middle"},
          "encoding": {
            "x": {"datum": 0, "type": "quantitative", "scale": {"domain": [-0.163, 141.3], "nice": false, "zero": false}, "axis": null},
            "y": {"datum": 0.68471, "type": "quantitative", "scale": {"domain": [0.68286, 0.74116], "nice": false, "zero": false}, "axis": null},
            "text": {"value": "☰ ✖"}
          }
        },
        {
          "data": {"name": "one"},
          "mark": {"type": "rule", "color": "#2f3a40", "strokeWidth": 3, "strokeCap": "round"},
          "encoding": {
            "x": {"datum": 0.49, "type": "quantitative", "scale": {"domain": [-0.163, 141.3], "nice": false, "zero": false}, "axis": null},
            "x2": {"datum": 40.07},
            "y": {"datum": 0.741, "type": "quantitative", "scale": {"domain": [0.68286, 0.74116], "nice": false, "zero": false}, "axis": null}
          }
        },
        {
          "data": {"name": "one"},
          "mark": {"type": "rule", "color": "#434d54", "strokeWidth": 2.5, "clip": false},
          "encoding": {
            "x": {"datum": -0.163, "type": "quantitative", "scale": {"domain": [-0.163, 141.3], "nice": false, "zero": false}, "axis": null},
            "x2": {"datum": 148.7},
            "y": {"datum": 0.68299, "type": "quantitative", "scale": {"domain": [0.68286, 0.74116], "nice": false, "zero": false}, "axis": null}
          }
        },
        {
          "data": {"name": "one"},
          "mark": {"type": "rule", "color": "#2b2b2b", "strokeWidth": 3, "clip": false},
          "encoding": {
            "x": {"datum": 148.3, "type": "quantitative", "scale": {"domain": [-0.163, 141.3], "nice": false, "zero": false}, "axis": null},
            "y": {"datum": 0.741, "type": "quantitative", "scale": {"domain": [0.68286, 0.74116], "nice": false, "zero": false}, "axis": null},
            "y2": {"datum": 0.68302}
          }
        }
      ]
    },
    {
      "width": 1737,
      "height": 108,
      "resolve": {"axis": {"x": "independent", "y": "independent"}},
      "layer": [
        {
          "data": {"name": "stoch"},
          "mark": {"type": "line", "color": "#ef8a6c", "strokeWidth": 1.6, "clip": true},
          "encoding": {
            "x": {"field": "i", "type": "quantitative", "scale": {"domain": [-0.163, 141.3], "nice": false, "zero": false}, "axis": null},
            "y": {"field": "d", "type": "quantitative", "scale": {"domain": [1.03, 97.18], "nice": false, "zero": false},
                  "axis": {"orient": "right", "values": [20, 80], "format": "d", "title": null, "grid": true, "gridColor": "#dfe3e6",
                           "gridWidth": 1.5, "ticks": false, "domain": false, "labelPadding": 4, "labelFlush": false}}
          }
        },
        {
          "data": {"name": "stoch"},
          "mark": {"type": "line", "color": "#5b62c6", "strokeWidth": 1.6, "clip": true},
          "encoding": {
            "x": {"field": "i", "type": "quantitative", "scale": {"domain": [-0.163, 141.3], "nice": false, "zero": false}, "axis": null},
            "y": {"field": "k", "type": "quantitative", "scale": {"domain": [1.03, 97.18], "nice": false, "zero": false}, "axis": null}
          }
        },
        {
          "data": {"name": "one"},
          "mark": {"type": "text", "color": "#d4d4d4", "fontSize": 16, "align": "left", "baseline": "middle"},
          "encoding": {
            "x": {"datum": 2.9, "type": "quantitative", "scale": {"domain": [-0.163, 141.3], "nice": false, "zero": false}, "axis": null},
            "y": {"datum": 17.7, "type": "quantitative", "scale": {"domain": [1.03, 97.18], "nice": false, "zero": false}, "axis": null},
            "text": {"value": "SO [14, 3, 5] 24, 34"}
          }
        },
        {
          "data": {"name": "one"},
          "mark": {"type": "text", "color": "#d4d4d4", "fontSize": 15, "font": "DejaVu Sans", "align": "left", "baseline": "middle"},
          "encoding": {
            "x": {"datum": 0, "type": "quantitative", "scale": {"domain": [-0.163, 141.3], "nice": false, "zero": false}, "axis": null},
            "y": {"datum": 17.7, "type": "quantitative", "scale": {"domain": [1.03, 97.18], "nice": false, "zero": false}, "axis": null},
            "text": {"value": "☰ ✖"}
          }
        },
        {
          "data": {"name": "one"},
          "mark": {"type": "rule", "color": "#434d54", "strokeWidth": 2.5, "clip": false},
          "encoding": {
            "x": {"datum": -0.163, "type": "quantitative", "scale": {"domain": [-0.163, 141.3], "nice": false, "zero": false}, "axis": null},
            "x2": {"datum": 148.7},
            "y": {"datum": 2.14, "type": "quantitative", "scale": {"domain": [1.03, 97.18], "nice": false, "zero": false}, "axis": null}
          }
        },
        {
          "data": {"name": "one"},
          "mark": {"type": "rule", "color": "#2b2b2b", "strokeWidth": 3, "clip": false},
          "encoding": {
            "x": {"datum": 148.3, "type": "quantitative", "scale": {"domain": [-0.163, 141.3], "nice": false, "zero": false}, "axis": null},
            "y": {"datum": 95.85, "type": "quantitative", "scale": {"domain": [1.03, 97.18], "nice": false, "zero": false}, "axis": null},
            "y2": {"datum": 2.37}
          }
        }
      ]
    },
    {
      "width": 1737,
      "height": 54,
      "resolve": {"axis": {"x": "independent", "y": "independent"}},
      "layer": [
        {
          "data": {"name": "one"},
          "mark": {"type": "text", "color": "#d4d4d4", "fontSize": 16, "align": "left", "baseline": "middle"},
          "encoding": {
            "x": {"datum": 2.9, "type": "quantitative", "scale": {"domain": [-0.163, 141.3], "nice": false, "zero": false},
                  "axis": {"values": [0, 17, 34, 51, 68, 85, 102, 119, 136], "title": null, "grid": false,
                           "labelExpr": "['10.07.2020','30.07.2020','19.08.2020','08.09.2020','28.09.2020','18.10.2020','03.11.2020','20.11.2020','07.12.2020'][round(datum.value / 17)]",
                           "labelAlign": "left", "labelFlush": false, "labelOverlap": false, "labelPadding": 2,
                           "tickSize": 5, "tickColor": "#cfd4d8", "tickWidth": 1.5, "domainColor": "#dfe3e6", "domainWidth": 1.5}},
            "y": {"datum": 111000, "type": "quantitative", "scale": {"domain": [0, 600000], "nice": false, "zero": false},
                  "axis": {"orient": "right", "values": [0, 412694], "format": "d", "title": null, "grid": false, "ticks": false,
                           "domain": false, "labelPadding": 4, "labelBaseline": "bottom", "labelFlush": false, "labelOverlap": false}},
            "text": {"value": "Volume (réel) 82414"}
          }
        },
        {
          "data": {"name": "one"},
          "mark": {"type": "text", "color": "#d4d4d4", "fontSize": 15, "font": "DejaVu Sans", "align": "left", "baseline": "middle"},
          "encoding": {
            "x": {"datum": 0, "type": "quantitative", "scale": {"domain": [-0.163, 141.3], "nice": false, "zero": false}, "axis": null},
            "y": {"datum": 111000, "type": "quantitative", "scale": {"domain": [0, 600000], "nice": false, "zero": false}, "axis": null},
            "text": {"value": "☰ ✖"}
          }
        },
        {
          "data": {"name": "volume"},
          "mark": {"type": "bar", "width": 4, "color": "#18a3ea", "clip": true},
          "encoding": {
            "x": {"field": "i", "type": "quantitative", "scale": {"domain": [-0.163, 141.3], "nice": false, "zero": false}, "axis": null},
            "y": {"field": "v", "type": "quantitative", "scale": {"domain": [0, 600000], "nice": false, "zero": false}, "axis": null}
          }
        },
        {
          "data": {"name": "one"},
          "mark": {"type": "rule", "color": "#2b2b2b", "strokeWidth": 3, "clip": false},
          "encoding": {
            "x": {"datum": 148.3, "type": "quantitative", "scale": {"domain": [-0.163, 141.3], "nice": false, "zero": false}, "axis": null},
            "y": {"datum": 570000, "type": "quantitative", "scale": {"domain": [0, 600000], "nice": false, "zero": false}, "axis": null},
            "y2": {"datum": -540000}
          }
        },
        {
          "data": {"name": "one"},
          "mark": {"type": "rule", "color": "#111111", "strokeWidth": 4, "clip": false},
          "encoding": {
            "x": {"datum": -0.163, "type": "quantitative", "scale": {"domain": [-0.163, 141.3], "nice": false, "zero": false}, "axis": null},
            "x2": {"datum": 148.3},
            "y": {"datum": -544000, "type": "quantitative", "scale": {"domain": [0, 600000], "nice": false, "zero": false}, "axis": null}
          }
        }
      ]
    }
  ]
}
